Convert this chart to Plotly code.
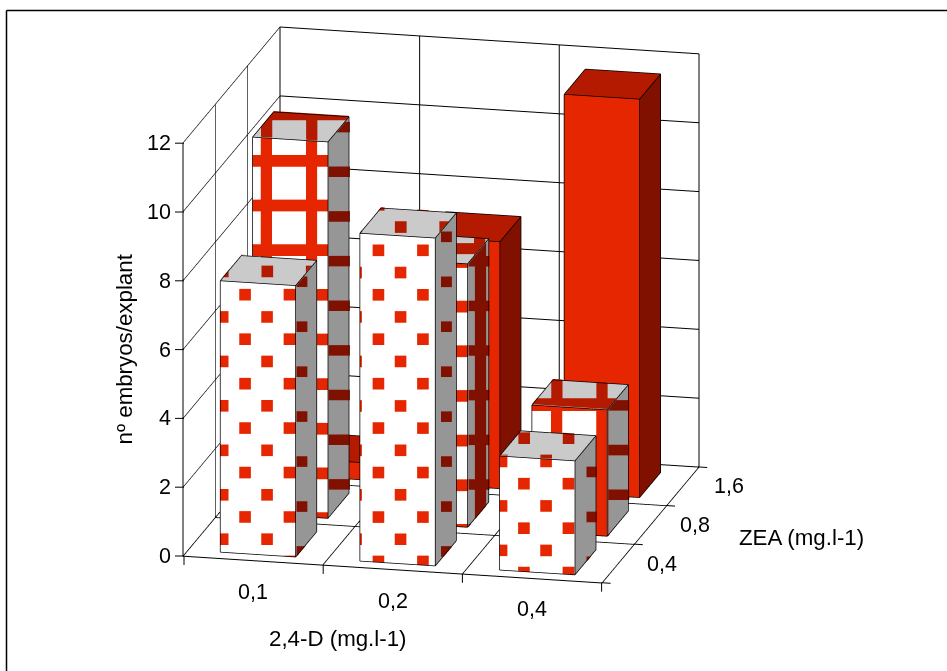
import numpy as np
import plotly.graph_objects as go

# ---- data ----
d24_labels = ["0,1", "0,2", "0,4"]
zea_labels = ["0,4", "0,8", "1,6"]
zea_04 = [7.88, 9.52, 3.31]
zea_08 = [10.93, 7.65, 3.67]
zea_16 = [0.5, 7.17, 11.57]
z_ticks = [0, 2, 4, 6, 8, 10, 12]

# ---- style ----
RED, RED_TOP, RED_SIDE = "#e62600", "#b31a00", "#801000"
WHITE, GREY_TOP, GREY_SIDE = "#ffffff", "#cacaca", "#969696"
FONT = "Liberation Sans"
FS = 21.5
FS_TITLE = 22.3
X0, X1, Y0, Y1 = 0.23, 0.77, 0.157, 0.81

# page pixel geometry of the oblique view, used to keep the hatch tiles square on screen
OX, OY, AX, AY, BX, BY, CZ = 184.0, 556.0, 139.2, 8.9, 32.2, -38.6, 34.4
# hatch tile anchors
dot_front = [(246, 339), (379, 339), (524, 483.3)]
dot_side = [(301.7, 326.7), (445.7, 326.7), (590.7, 471.7)]
grid_vert = [261.7, 429.0, 551.0]
grid_front = [155.0, 256.0, 399.0]
grid_top = [110.4, 244.0, 399.0]
grid_side = [166.7, 256.0, 400.0]
zea_label_shift = [44, 44, 46]
eye_dir = np.array([0.2167, -0.9366, 0.2767])
EYE_R = 2.0
ASPECT = 1.41
EPS = 0.006


def proj(x, y, z):
    return (OX + x * AX + y * BX, OY + x * AY + y * BY - z * CZ)


def clip(poly, l, t, r, b):
    def cut(pts, inside, inter):
        out = []
        for i, p in enumerate(pts):
            q = pts[(i + 1) % len(pts)]
            if inside(p):
                out.append(p)
                if not inside(q):
                    out.append(inter(p, q))
            elif inside(q):
                out.append(inter(p, q))
        return out

    def ix(v):
        return lambda p, q: (v, p[1] + (q[1] - p[1]) * (v - p[0]) / (q[0] - p[0]))

    def iy(v):
        return lambda p, q: (p[0] + (q[0] - p[0]) * (v - p[1]) / (q[1] - p[1]), v)

    for ins, it in [
        (lambda p: p[0] >= l, ix(l)),
        (lambda p: p[0] <= r, ix(r)),
        (lambda p: p[1] >= t, iy(t)),
        (lambda p: p[1] <= b, iy(b)),
    ]:
        if not poly:
            return []
        poly = cut(poly, ins, it)
    return poly


def unproject(face, s, bar):
    sx, sy = s
    xa, xb, ya, yb, h = bar
    if face == "front":
        x = (sx - OX - ya * BX) / AX
        return (x, ya - EPS, (OY + x * AY + ya * BY - sy) / CZ)
    if face == "side":
        y = (sx - OX - xb * AX) / BX
        return (xb + EPS, y, (OY + xb * AY + y * BY - sy) / CZ)
    u, v = sx - OX, sy - OY + h * CZ
    det = AX * BY - AY * BX
    return ((u * BY - v * BX) / det, (AX * v - AY * u) / det, h + EPS * 4)


class Mesh:
    def __init__(self):
        self.v, self.i, self.j, self.k, self.c = [], [], [], [], []

    def poly(self, pts, color):
        n = len(self.v)
        self.v += pts
        for t in range(1, len(pts) - 1):
            self.i.append(n)
            self.j.append(n + t)
            self.k.append(n + t + 1)
            self.c.append(color)

    def trace(self):
        v = np.array(self.v)
        return go.Mesh3d(
            x=v[:, 0], y=v[:, 1], z=v[:, 2], i=self.i, j=self.j, k=self.k,
            facecolor=self.c, flatshading=True, hoverinfo="skip", showscale=False,
            lighting=dict(ambient=1, diffuse=0, specular=0, roughness=1, fresnel=0),
        )


boxes, hatch = Mesh(), Mesh()
ex, ey, ez = [], [], []
off = eye_dir * 0.012
scale = np.array([3.0, 3.0, 12.0])


def edge(a, b):
    for arr, n in ((ex, 0), (ey, 1), (ez, 2)):
        arr += [a[n] + off[n] * scale[n], b[n] + off[n] * scale[n], None]


def faces(bar):
    xa, xb, ya, yb, h = bar
    return {
        "front": [(xa, ya, 0), (xb, ya, 0), (xb, ya, h), (xa, ya, h)],
        "top": [(xa, ya, h), (xb, ya, h), (xb, yb, h), (xa, yb, h)],
        "side": [(xb, ya, 0), (xb, yb, 0), (xb, yb, h), (xb, ya, h)],
    }


def add_hatch(bar, face, rect, color):
    f = faces(bar)[face]
    pts = clip([proj(*p) for p in f], *rect)
    if len(pts) >= 3:
        hatch.poly([unproject(face, s, bar) for s in pts], color)


for row, vals in [(2, zea_16), (1, zea_08), (0, zea_04)]:
    for col, h in enumerate(vals):
        bar = (col + X0, col + X1, row + Y0, row + Y1, h)
        fs = faces(bar)
        solid = row == 2
        boxes.poly(fs["front"], RED if solid else WHITE)
        boxes.poly(fs["top"], RED_TOP if solid else GREY_TOP)
        boxes.poly(fs["side"], RED_SIDE if solid else GREY_SIDE)
        for f in fs.values():
            for a, b in zip(f, f[1:] + f[:1]):
                edge(a, b)
        if row == 0:
            ax0, ay0 = dot_front[col]
            for m in range(-20, 21):
                for n in range(-8, 9):
                    cx = ax0 + n * 44.3 + (m % 2) * 22.0
                    cy = ay0 + m * 22.2
                    r = (cx - 5.8, cy - 5.8, cx + 5.8, cy + 5.8)
                    add_hatch(bar, "front", r, RED)
                    add_hatch(bar, "top", r, RED_TOP)
            sx0, sy0 = dot_side[col]
            for m in range(-12, 13):
                cy = sy0 + m * 44.9
                add_hatch(bar, "side", (sx0 - 5.4, cy - 5.3, sx0 + 5.4, cy + 5.3), RED_SIDE)
        if row == 1:
            xs = grid_vert[col]
            for n in range(-6, 7):
                vx = xs + n * 45.0
                r = (vx, -100, vx + 11.2, 800)
                add_hatch(bar, "front", r, RED)
                add_hatch(bar, "top", r, RED_TOP)
                add_hatch(bar, "side", r, RED_SIDE)
            for m in range(-12, 16):
                for face, a0, hgt, colr in (
                    ("front", grid_front[col], 11.7, RED),
                    ("top", grid_top[col], 11.0, RED_TOP),
                    ("side", grid_side[col], 10.5, RED_SIDE),
                ):
                    t = a0 + m * 44.6
                    add_hatch(bar, face, (-100, t, 1100, t + hgt), colr)

fig = go.Figure()
fig.add_trace(boxes.trace())
fig.add_trace(hatch.trace())
fig.add_trace(go.Scatter3d(x=ex, y=ey, z=ez, mode="lines", line=dict(color="black", width=1.5),
                           hoverinfo="skip", showlegend=False))

axis_common = dict(
    showgrid=True, gridcolor="#000000", gridwidth=2, showline=True, linecolor="#000000",
    linewidth=2, zeroline=False, showbackground=False, showspikes=False,
    ticks="", title=dict(text=""), tickangle=0,
)
tf = dict(family=FONT, size=FS, color="black")
tt = dict(family=FONT, size=FS_TITLE, color="black")
annotations = []
for c, t in enumerate(d24_labels):
    annotations.append(dict(x=c + 0.5, y=0, z=0, text=t, showarrow=False, yshift=-31, font=tf))
for r, t in enumerate(zea_labels):
    annotations.append(dict(x=3, y=r + 0.5, z=0, text=t, showarrow=False, xshift=zea_label_shift[r], font=tf))
for v in z_ticks:
    annotations.append(dict(x=0, y=0, z=v, text=str(v), showarrow=False, xanchor="right", xshift=-10, font=tf))


def px_line(a, b, width=1.0):
    return dict(type="line", xref="paper", yref="paper", x0=a[0] / 947, y0=1 - a[1] / 671,
                x1=b[0] / 947, y1=1 - b[1] / 671, line=dict(color="black", width=width))


shapes = [px_line((6.5, 10.5), (6.5, 671), 1.5), px_line((6.5, 10.5), (947, 10.5), 1.5)]
for i in range(4):
    p = proj(i, 0, 0)
    shapes.append(px_line(p, (p[0], p[1] + 9)))
for j in range(4):
    p = proj(3, j, 0)
    shapes.append(px_line(p, (p[0] + 9, p[1] + 0.6)))
for v in z_ticks:
    p = proj(0, 0, v)
    shapes.append(px_line(p, (p[0] - 9, p[1])))

blank = [" ", " ", " ", " "]
fig.update_layout(
    width=947, height=671, margin=dict(l=0, r=0, t=0, b=0), showlegend=False,
    paper_bgcolor="white", hovermode=False,
    scene=dict(
        domain=dict(x=[0, 0.9314], y=[0.091, 1.0]),
        aspectmode="manual", aspectratio=dict(x=ASPECT, y=ASPECT, z=ASPECT),
        camera=dict(eye=dict(x=eye_dir[0] * EYE_R, y=eye_dir[1] * EYE_R, z=eye_dir[2] * EYE_R),
                    up=dict(x=0, y=0, z=1), center=dict(x=0, y=0, z=0),
                    projection=dict(type="orthographic")),
        xaxis=dict(range=[0, 3], tickvals=[0, 1, 2, 3], ticktext=blank, **axis_common),
        yaxis=dict(range=[0, 3], tickvals=[0, 1, 2, 3], ticktext=blank, **axis_common),
        zaxis=dict(range=[0, 12], tickvals=z_ticks, ticktext=[" "] * 7, **axis_common),
        annotations=annotations,
    ),
    annotations=[
        dict(x=123.5 / 947, y=1 - 349 / 671, xref="paper", yref="paper", text="nº embryos/explant",
             textangle=-90, showarrow=False, xanchor="center", yanchor="middle", font=tt),
        dict(x=338 / 947, y=1 - 638 / 671, xref="paper", yref="paper", text="2,4-D (mg.l-1)",
             showarrow=False, xanchor="center", yanchor="middle", font=tt),
        dict(x=801.5 / 947, y=1 - 537 / 671, xref="paper", yref="paper", text="ZEA (mg.l-1)",
             showarrow=False, xanchor="center", yanchor="middle", font=tt),
    ],
    shapes=shapes,
)
fig.write_html("out.html", config=dict(displayModeBar=False),
               post_script="document.body.style.margin='0';document.documentElement.style.overflow='hidden';")
